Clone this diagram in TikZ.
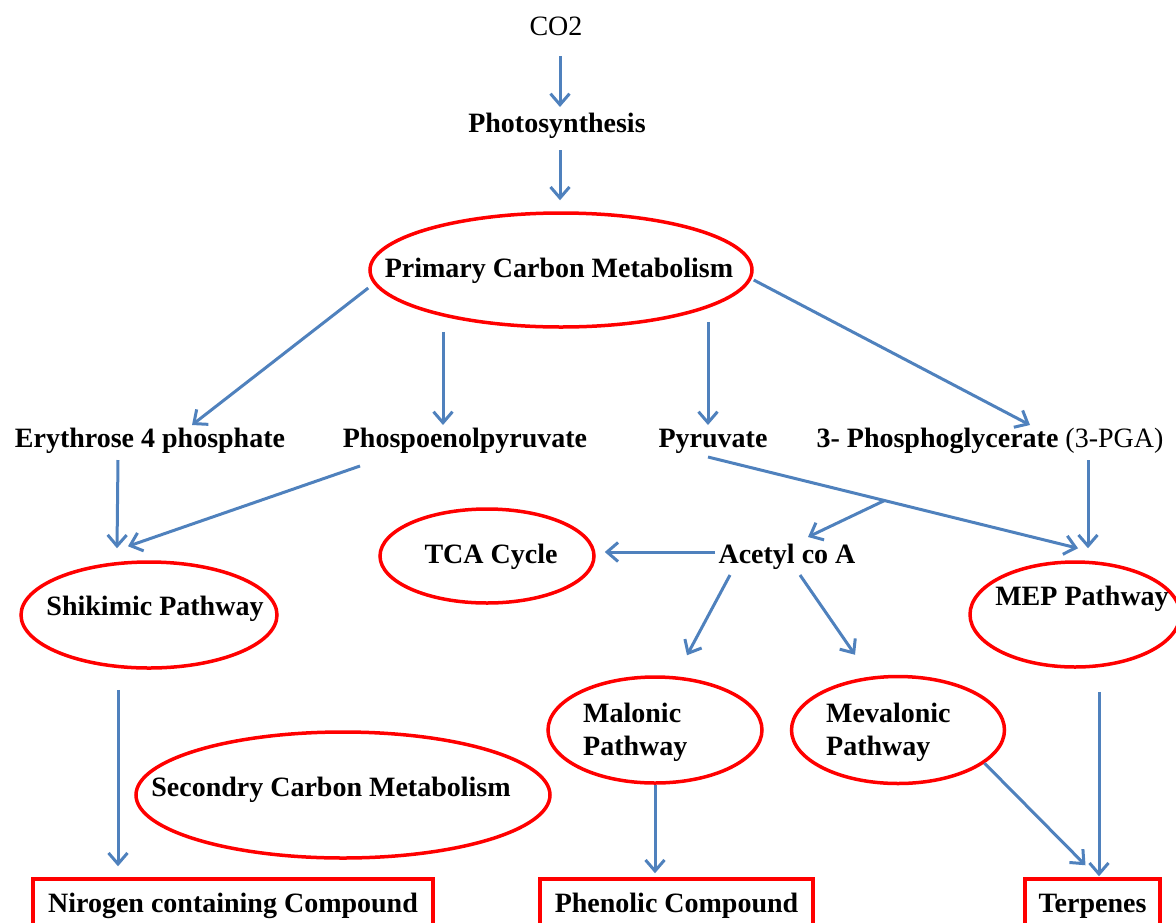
\documentclass[tikz,border=0pt]{standalone}
\usepackage{fontspec}
\setmainfont{Liberation Serif}
\usetikzlibrary{calc,arrows.meta,shapes.geometric}
\definecolor{flowblue}{RGB}{79,129,189}
\definecolor{ovalred}{RGB}{255,0,0}

\begin{document}
\begin{tikzpicture}[x=1pt, y=-1pt,
	every node/.style={font=\fontsize{28}{33}\selectfont\bfseries, inner sep=0pt},
	oval/.style={draw=ovalred, line width=3.5pt, ellipse},
	endbox/.style={draw=ovalred, line width=3.5pt, minimum height=53pt, text height=19pt, text depth=6pt},
	flow/.style={draw=flowblue, line width=3pt, -{Straight Barb[length=11pt,width=19pt]}}]
			%%%%% START %%%%%
			\useasboundingbox (0,0) rectangle (1176,922);
			
			\node[anchor=base, font=\fontsize{28}{33}\selectfont] (co2) at (556,35) {CO2};
			\node[anchor=base] (photo) at (557,132) {Photosynthesis};
			
			\node[oval, minimum width=382pt, minimum height=114pt] (pcm) at (561,270) {};
			\node[anchor=base] (pcmtext) at (559,277) {Primary Carbon Metabolism};
			
			\node[anchor=base] (ery) at (150,447) {Erythrose 4 phosphate};
			\node[anchor=base] (pep) at (465,447) {Phospoenolpyruvate};
			\node[anchor=base] (pyr) at (713,447) {Pyruvate};
			\node[anchor=base] (pga) at (990,447) {3- Phosphoglycerate \textmd{(3-PGA)}};
			
			\node[oval, minimum width=214pt, minimum height=94pt] (tca) at (487,556) {};
			\node[anchor=base] (tcatext) at (491,563) {TCA Cycle};
			\node[anchor=base] (acetyl) at (787,563) {Acetyl co A};
			
			\node[oval, minimum width=256pt, minimum height=106pt] (shik) at (149,615) {};
			\node[anchor=base] (shiktext) at (155,615) {Shikimic Pathway};
			\node[oval, minimum width=210pt, minimum height=105pt] (mep) at (1075,614.5) {};
			\node[anchor=base] (meptext) at (1082,605) {MEP Pathway};
			
			\node[oval, minimum width=214pt, minimum height=106pt] (mal) at (655,730) {};
			\node[anchor=base west, align=left] (maltext) at (583,755) {Malonic\\Pathway};
			\node[oval, minimum width=213pt, minimum height=107pt] (mev) at (898,730) {};
			\node[anchor=base west, align=left] (mevtext) at (826,755) {Mevalonic\\Pathway};
			
			\node[oval, minimum width=414pt, minimum height=126pt] (sec) at (343,795) {};
			\node[anchor=base] (sectext) at (331,796) {Secondry Carbon Metabolism};
			
			\node[endbox, minimum width=400pt] (nitro) at (233,905.5) {Nirogen containing Compound};
			\node[endbox, minimum width=273pt] (phen) at (676.5,905.5) {Phenolic Compound};
			\node[endbox, minimum width=135pt] (terp) at (1092.5,905.5) {Terpenes};
			
			% arrows
			\draw[flow] ($(co2.base)+(4,21)$) -- ($(photo.base)+(3,-25)$);
			\draw[flow] ($(photo.base)+(3,18)$) -- ($(pcm.north)+(-1,-11)$);
			
			\draw[flow] ($(pcm.west)+(0,18)$) -- ($(ery.base)+(42,-22)$);
			\draw[flow] ($(pcm.south)+(-118,3)$) -- ($(pep.base)+(-22,-22)$);
			\draw[flow] ($(pcm.south)+(147,-7)$) -- ($(pyr.base)+(-5,-22)$);
			\draw[flow] ($(pcm.east)+(0,10)$) -- ($(pga.base)+(40,-22)$);
			
			\draw[flow] ($(ery.base)+(-32,13)$) -- ($(shik.north)+(-32,-12)$);
			\draw[flow] ($(pep.base)+(-105,19)$) -- ($(shik.north)+(-21,-14)$);
			\draw[flow] ($(pyr.base)+(-5,10)$) -- coordinate[pos=0.477] (split) ($(mep.north)+(3,-12)$);
			\draw[flow] (split) -- ($(acetyl.base)+(21,-26)$);
			\draw[flow] ($(pga.base)+(98,13)$) -- ($(mep.north)+(13,-12)$);
			
			\draw[flow] ($(acetyl.base)+(-72,-11)$) -- ($(tca.east)+(9,-4)$);
			\draw[flow] ($(acetyl.base)+(-57,12)$) -- ($(mal.north)+(32,-20)$);
			\draw[flow] ($(acetyl.base)+(13,12)$) -- ($(mev.north)+(-43,-20)$);
			
			\draw[flow] ($(shik.south)+(-31,20)$) -- ($(nitro.north)+(-115,-11)$);
			\draw[flow] (mal.south) -- ($(phen.north)+(-21.5,-4)$);
			\draw[flow] (mev.-21) -- ($(terp.north)+(-7,-12)$);
			\draw[flow] ($(mep.south)+(24,23)$) -- ($(terp.north)+(6.5,-1)$);
			
			%%%%% END %%%%%
\end{tikzpicture}
\end{document}
